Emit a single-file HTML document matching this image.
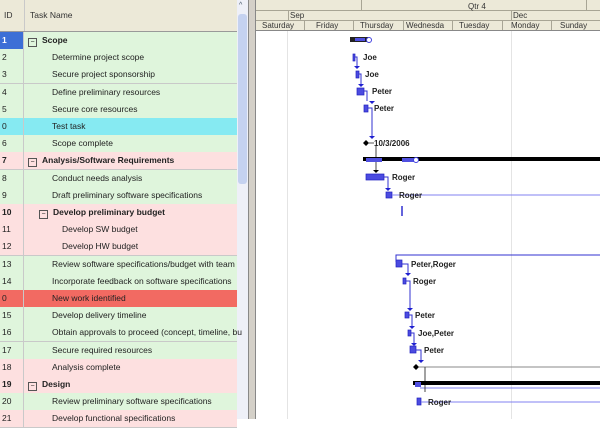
<!DOCTYPE html>
<html><head><style>
body{margin:0;width:600px;height:419px;overflow:hidden;background:#fff;font-family:"Liberation Sans",sans-serif;position:relative}
.a{position:absolute}
.r{position:absolute;left:0;width:237px;height:17px;border-bottom:1px solid #c9c9c9;font-size:8.5px;line-height:17px;color:#222}
.id{position:absolute;left:0;width:24px;height:17px;border-right:1px solid #c9c9c9;padding-left:2px;box-sizing:border-box}
.t{position:absolute;white-space:nowrap}
.g{background:#dff5dc}.p{background:#fde0e0}.c{background:#86eaf2}.x{background:#f26a62}
.b{font-weight:bold}
.bx{display:inline-block;width:7px;height:7px;border:1px solid #555;font-size:7px;line-height:7px;text-align:center;margin-right:5px;vertical-align:-1px;font-weight:normal}
</style></head><body>
<!-- left header -->
<div class="a" style="left:0;top:0;width:237px;height:31px;background:#ece9d8;border-bottom:1px solid #999"></div>
<div class="a" style="left:24px;top:0;width:1px;height:31px;background:#c9c9c9"></div>
<div class="a" style="left:4px;top:10px;font-size:8.5px;color:#333">ID</div>
<div class="a" style="left:30px;top:10px;font-size:8.5px;color:#333">Task Name</div>
<!-- scrollbar -->
<div class="a" style="left:237px;top:0;width:11px;height:419px;background:#eef0f8"></div>
<div class="a" style="left:238px;top:14px;width:9px;height:170px;background:#c5d2f0;border-radius:3px"></div>
<div class="a" style="left:239px;top:2px;font-size:7px;color:#456">^</div>
<div class="a" style="left:248px;top:0;width:8px;height:419px;background:#d4d0c8;border-left:1px solid #888;border-right:1px solid #888;box-sizing:border-box"></div>

<div class="r g" style="top:32px"><div class="id b" style="background:#3c6fd6;color:#fff">1</div><div class="t b" style="left:28px"><span class="bx">−</span>Scope</div></div>
<div class="r g" style="top:49.2px"><div class="id">2</div><div class="t" style="left:52px">Determine project scope</div></div>
<div class="r g" style="top:66.4px"><div class="id">3</div><div class="t" style="left:52px">Secure project sponsorship</div></div>
<div class="r g" style="top:83.6px"><div class="id">4</div><div class="t" style="left:52px">Define preliminary resources</div></div>
<div class="r g" style="top:100.8px"><div class="id">5</div><div class="t" style="left:52px">Secure core resources</div></div>
<div class="r c" style="top:118px"><div class="id">0</div><div class="t" style="left:52px">Test task</div></div>
<div class="r g" style="top:135.2px"><div class="id">6</div><div class="t" style="left:52px">Scope complete</div></div>
<div class="r p" style="top:152.4px"><div class="id b">7</div><div class="t b" style="left:28px"><span class="bx">−</span>Analysis/Software Requirements</div></div>
<div class="r g" style="top:169.6px"><div class="id">8</div><div class="t" style="left:52px">Conduct needs analysis</div></div>
<div class="r g" style="top:186.8px"><div class="id">9</div><div class="t" style="left:52px">Draft preliminary software specifications</div></div>
<div class="r p" style="top:204px"><div class="id b">10</div><div class="t b" style="left:39px"><span class="bx">−</span>Develop preliminary budget</div></div>
<div class="r p" style="top:221.2px"><div class="id">11</div><div class="t" style="left:62px">Develop SW budget</div></div>
<div class="r p" style="top:238.4px"><div class="id">12</div><div class="t" style="left:62px">Develop HW budget</div></div>
<div class="r g" style="top:255.6px"><div class="id">13</div><div class="t" style="left:52px">Review software specifications/budget with team</div></div>
<div class="r g" style="top:272.8px"><div class="id">14</div><div class="t" style="left:52px">Incorporate feedback on software specifications</div></div>
<div class="r x" style="top:290px"><div class="id">0</div><div class="t" style="left:52px">New work identified</div></div>
<div class="r g" style="top:307.2px"><div class="id">15</div><div class="t" style="left:52px">Develop delivery timeline</div></div>
<div class="r g" style="top:324.4px"><div class="id">16</div><div class="t" style="left:52px">Obtain approvals to proceed (concept, timeline, bu</div></div>
<div class="r g" style="top:341.6px"><div class="id">17</div><div class="t" style="left:52px">Secure required resources</div></div>
<div class="r p" style="top:358.8px"><div class="id">18</div><div class="t" style="left:52px">Analysis complete</div></div>
<div class="r p" style="top:376px"><div class="id b">19</div><div class="t b" style="left:28px"><span class="bx">−</span>Design</div></div>
<div class="r g" style="top:393.2px"><div class="id">20</div><div class="t" style="left:52px">Review preliminary software specifications</div></div>
<div class="r p" style="top:410.4px"><div class="id">21</div><div class="t" style="left:52px">Develop functional specifications</div></div>

<!-- chart -->
<svg class="a" style="left:256px;top:0" width="344" height="419" viewBox="256 0 344 419" font-family="Liberation Sans" font-size="8">
<rect x="256" y="0" width="344" height="31" fill="#ece9d8"/>
<g stroke="#a8a595" stroke-width="1">
<line x1="256" y1="10.5" x2="600" y2="10.5"/><line x1="256" y1="20.5" x2="600" y2="20.5"/><line x1="256" y1="30.5" x2="600" y2="30.5" stroke="#888"/>
<line x1="361.5" y1="0" x2="361.5" y2="10"/><line x1="586.5" y1="0" x2="586.5" y2="10"/>
<line x1="288.5" y1="10" x2="288.5" y2="20"/><line x1="511.5" y1="10" x2="511.5" y2="20"/>
<line x1="304.5" y1="20" x2="304.5" y2="30"/><line x1="353.5" y1="20" x2="353.5" y2="30"/><line x1="403.5" y1="20" x2="403.5" y2="30"/><line x1="452.5" y1="20" x2="452.5" y2="30"/><line x1="502.5" y1="20" x2="502.5" y2="30"/><line x1="551.5" y1="20" x2="551.5" y2="30"/>
</g>
<g fill="#333" font-size="8">
<text x="468" y="9">Qtr 4</text><text x="290" y="18">Sep</text><text x="513" y="18">Dec</text>
<text x="262" y="28">Saturday</text><text x="316" y="28">Friday</text><text x="360" y="28">Thursday</text><text x="406" y="28">Wednesda</text><text x="459" y="28">Tuesday</text><text x="511" y="28">Monday</text><text x="560" y="28">Sunday</text>
</g>
<g stroke="#e4e4e4"><line x1="287.5" y1="31" x2="287.5" y2="419"/><line x1="511.5" y1="31" x2="511.5" y2="419"/></g>
<!-- summary scope -->
<rect x="350" y="37" width="18" height="5" fill="#222"/><rect x="355" y="38" width="10" height="3" fill="#5050e0"/><circle cx="369" cy="40" r="2.5" fill="#fff" stroke="#4040e0"/>
<g fill="#4b4be0" stroke="#2020c0" stroke-width="0.7">
<rect x="353" y="54" width="2" height="7"/><rect x="356" y="71" width="3" height="7"/><rect x="357" y="88" width="7" height="7"/><rect x="364" y="105" width="4" height="7"/>
<rect x="366" y="174" width="18" height="6"/><rect x="386" y="192" width="6" height="6"/>
<rect x="396" y="260" width="6" height="7"/><rect x="403" y="278" width="3" height="6"/><rect x="405" y="312" width="4" height="6"/><rect x="408" y="330" width="3" height="6"/><rect x="410" y="346" width="6" height="7"/><rect x="417" y="398" width="4" height="7"/>
</g>
<g stroke="#3030d0" stroke-width="1" fill="none">
<path d="M355 57 H357 V66"/><path d="M359 74 H361 V84"/><path d="M364 91 H367 V101"/><path d="M368 108 H372 V136"/>
<path d="M384 177 H388 V188"/><line x1="392" y1="195" x2="600" y2="195" stroke="#8080f0"/>
<line x1="402" y1="206" x2="402" y2="216" stroke-width="1.5"/>
<path d="M600 255 H396 V262"/><path d="M402 264 H408 V273"/><path d="M406 281 H410 V308"/><path d="M409 315 H412 V326"/><path d="M411 333 H414 V343"/><path d="M416 350 H421 V360"/>
<line x1="421" y1="402" x2="600" y2="402" stroke="#8080f0"/><line x1="420" y1="388" x2="600" y2="388" stroke="#8080f0"/>
</g>
<g fill="#2020d0">
<path d="M354 66 l3 3 l3 -3z"/><path d="M358 84 l3 3 l3 -3z"/><path d="M369 101 l3 3 l3 -3z"/><path d="M369 136 l3 3 l3 -3z"/><path d="M385 188 l3 3 l3 -3z"/><path d="M405 273 l3 3 l3 -3z"/><path d="M407 308 l3 3 l3 -3z"/><path d="M409 326 l3 3 l3 -3z"/><path d="M411 343 l3 3 l3 -3z"/><path d="M418 360 l3 3 l3 -3z"/>
</g>
<path d="M366 140 l3 3 l-3 3 l-3 -3z" fill="#000"/><line x1="369" y1="143" x2="374" y2="143" stroke="#555"/>
<line x1="376" y1="146" x2="376" y2="170" stroke="#444"/><path d="M373 170 l3 3 l3 -3z" fill="#000"/>
<rect x="363" y="157" width="237" height="4" fill="#000"/><rect x="366" y="158" width="16" height="4" fill="#5050e0"/><rect x="402" y="158" width="12" height="4" fill="#5050e0"/><circle cx="416" cy="160" r="2.5" fill="#fff" stroke="#4040e0"/>
<path d="M416 364 l3 3 l-3 3 l-3 -3z" fill="#000"/><line x1="419" y1="367" x2="600" y2="367" stroke="#888"/>
<line x1="425" y1="367" x2="425" y2="392" stroke="#444"/>
<rect x="413" y="381" width="187" height="4" fill="#000"/><rect x="415" y="382" width="6" height="5" fill="#5050e0"/>
<g fill="#222" font-weight="bold" font-size="8">
<text x="363" y="60">Joe</text><text x="365" y="77">Joe</text><text x="372" y="94">Peter</text><text x="374" y="111">Peter</text>
<text x="374" y="146">10/3/2006</text><text x="392" y="180">Roger</text><text x="399" y="198">Roger</text>
<text x="411" y="267">Peter,Roger</text><text x="413" y="284">Roger</text><text x="415" y="318">Peter</text><text x="418" y="336">Joe,Peter</text><text x="424" y="353">Peter</text><text x="428" y="405">Roger</text>
</g>
</svg>
</body></html>
